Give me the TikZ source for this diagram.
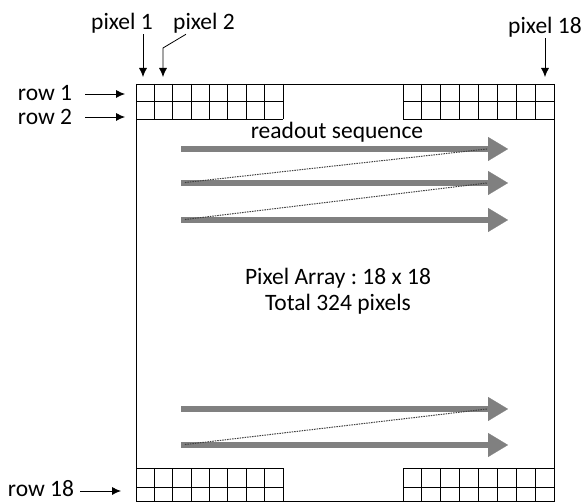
\documentclass[tikz,border=0pt]{standalone}
\usepackage{fontspec}
\setmainfont{Carlito}
\frenchspacing
\usetikzlibrary{arrows,arrows.meta}
\tikzstyle{tag} = [font=\fontsize{23.5}{26}\selectfont, inner sep=1pt, align=center]
\tikzstyle{cell} = [draw, line width=0.8pt]
\tikzstyle{line} = [draw, line width=0.8pt, -{Latex[length=9pt,width=8pt]}]
\tikzstyle{flow} = [draw=black!50, line width=6pt, -{Triangle[length=20pt,width=24pt,line width=0.1pt]}]
\tikzstyle{zig} = [draw=black!75, line width=1pt, dash pattern=on 1.5pt off 1pt]

\begin{document}
\begin{tikzpicture}[x=1pt, y=-1pt]
    \useasboundingbox (0,0) rectangle (582,502);
    % Place the array
    \draw [cell] (136,84) rectangle (554,501.8);
    \foreach \gx/\gw in {136/18.375, 403/18.875} {
        \foreach \i in {0,...,8} {
            \draw [cell] ({\gx+\i*\gw},84) -- ({\gx+\i*\gw},119);
            \draw [cell] ({\gx+\i*\gw},468.3) -- ({\gx+\i*\gw},502);
        }
        \draw [cell] (\gx,101.6) -- ({\gx+8*\gw},101.6);
        \draw [cell] (\gx,119) -- ({\gx+8*\gw},119);
        \draw [cell] (\gx,468.3) -- ({\gx+8*\gw},468.3);
        \draw [cell] (\gx,487.7) -- ({\gx+8*\gw},487.7);
    }
    % Place nodes
    \node [tag] (pixA) at (122,23) {pixel 1};
    \node [tag] (pixB) at (204,23) {pixel 2};
    \node [tag] (pixR) at (545,27) {pixel 18};
    \node [tag] (rowA) at (45,93) {row 1};
    \node [tag] (rowB) at (45,117) {row 2};
    \node [tag] (rowR) at (41,489) {row 18};
    \node [tag] (seq) at (337,132) {readout sequence};
    \node [tag] (info) at (338,291) {Pixel Array : 18 x 18\\Total 324 pixels};
    \coordinate (cA) at (143,77);
    \coordinate (cB) at (163,77);
    \coordinate (kB) at (163,48);
    \coordinate (cR) at (545,77);
    \coordinate (rA) at (125,94);
    \coordinate (rB) at (125,117);
    \coordinate (rR) at (121,491);
    \foreach \n/\y in {1/149, 2/183, 3/220, 4/409, 5/445} {
        \coordinate (s\n) at (181,\y);
        \coordinate (e\n) at (508,\y);
        \coordinate (b\n) at (487,\y);
    }

    % Draw edges
    \path [line] (pixA.south -| cA) -- (cA);
    \path [line] ([xshift=14pt]pixB.south west) -- (kB) -- (cB);
    \path [line] (pixR) -- (cR);
    \path [line, shorten <=12pt] (rowA.east |- rA) -- (rA);
    \path [line, shorten <=12pt] (rowB.east |- rB) -- (rB);
    \path [line, shorten <=5pt] (rowR.east |- rR) -- (rR);
    \foreach \n in {1,...,5} {
        \path [flow] (s\n) -- (e\n);
    }
    \path [zig, shorten <=4pt] (s2) -- (b1);
    \path [zig, shorten <=4pt] (s3) -- (b2);
    \path [zig, shorten <=4pt] (s5) -- (b4);
\end{tikzpicture}
\end{document}
